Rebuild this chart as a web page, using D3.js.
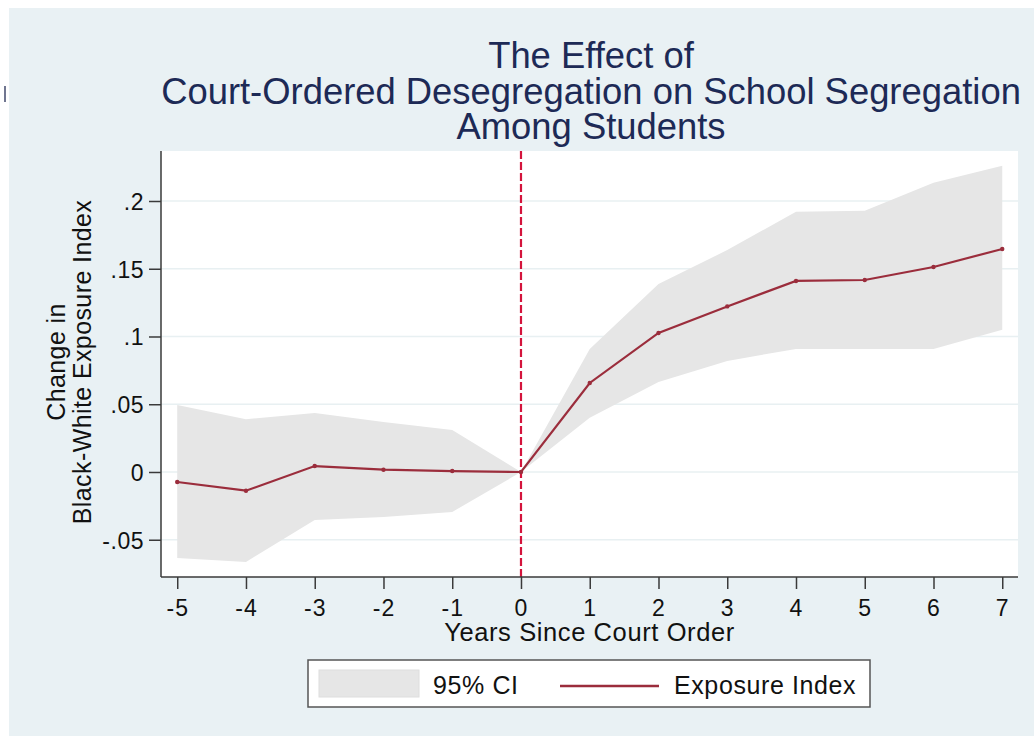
<!DOCTYPE html>
<html>
<head>
<meta charset="utf-8">
<script src="https://cdn.jsdelivr.net/npm/d3@7"></script>
<style>
  html, body { margin: 0; padding: 0; background: #fff; }
  svg { display: block; font-family: "Liberation Sans", Arial, Helvetica, sans-serif; }
</style>
</head>
<body>
<svg id="chart" width="1034" height="736"></svg>
<script>
// values
const years = [-5, -4, -3, -2, -1, 0, 1, 2, 3, 4, 5, 6, 7];
const estimate = [-0.0074, -0.0138, 0.0044, 0.0017, 0.0007, 0, 0.0657, 0.1026, 0.1222, 0.141, 0.1417, 0.1513, 0.1646];
const ciLower = [-0.0635, -0.0664, -0.0354, -0.0332, -0.0295, 0, 0.040, 0.0665, 0.082, 0.0908, 0.0908, 0.0908, 0.105];
const ciUpper = [0.0494, 0.039, 0.0435, 0.0369, 0.031, 0, 0.0908, 0.1387, 0.1638, 0.192, 0.1928, 0.2135, 0.226];
const yTicks = [-0.05, 0, 0.05, 0.1, 0.15, 0.2];
const yTickLabels = ['-.05', '0', '.05', '.1', '.15', '.2'];
const titleLines = ['The Effect of', 'Court-Ordered Desegregation on School Segregation', 'Among Students'];
const yTitleLines = ['Change in', 'Black-White Exposure Index'];
const xTitle = 'Years Since Court Order';
const legendLabels = ['95% CI', 'Exposure Index'];

const rows = years.map((yr, i) => ({ yr, est: estimate[i], lo: ciLower[i], hi: ciUpper[i] }));

const svg = d3.select('#chart');
const plot = { left: 161, right: 1018, top: 151, bottom: 577 };

const lineColor = '#9b2d3c';
const bandColor = '#e6e6e6';
const textColor = '#111';

// outer background
svg.append('rect').attr('x', 9).attr('y', 8).attr('width', 1025).attr('height', 728).attr('fill', '#e9f1f4');
svg.append('rect').attr('x', 4).attr('y', 86).attr('width', 2).attr('height', 16).attr('fill', '#707690');

// plot region
svg.append('rect')
  .attr('x', plot.left).attr('y', plot.top)
  .attr('width', plot.right - plot.left).attr('height', plot.bottom - plot.top)
  .attr('fill', '#fff');

const x = d3.scaleLinear().domain([-5.236, 7.229]).range([plot.left, plot.right]);
const y = d3.scaleLinear().domain([-0.0775, 0.2369]).range([plot.bottom, plot.top]);

// gridlines
svg.append('g').selectAll('line')
  .data(yTicks)
  .join('line')
  .attr('x1', plot.left).attr('x2', plot.right)
  .attr('y1', d => y(d)).attr('y2', d => y(d))
  .attr('stroke', '#e8f0f2').attr('stroke-width', 1.5);

// 95% CI band
const area = d3.area().x(d => x(d.yr)).y0(d => y(d.lo)).y1(d => y(d.hi));
svg.append('path').datum(rows).attr('d', area).attr('fill', bandColor);

// court order line
svg.append('line')
  .attr('x1', x(0)).attr('x2', x(0))
  .attr('y1', plot.top).attr('y2', plot.bottom)
  .attr('stroke', '#d4143c').attr('stroke-width', 2.2)
  .attr('stroke-dasharray', '8,3');

// point estimates
const line = d3.line().x(d => x(d.yr)).y(d => y(d.est));
svg.append('path').datum(rows).attr('d', line)
  .attr('fill', 'none').attr('stroke', lineColor).attr('stroke-width', 2.2);
svg.append('g').selectAll('circle')
  .data(rows)
  .join('circle')
  .attr('cx', d => x(d.yr)).attr('cy', d => y(d.est)).attr('r', 2.2)
  .attr('fill', lineColor);

// axes
const axisColor = '#3a3a3a';
const yAxis = svg.append('g')
  .attr('transform', `translate(${plot.left},0)`)
  .call(d3.axisLeft(y).tickValues(yTicks).tickFormat((d, i) => yTickLabels[i]).tickSize(12).tickPadding(5).tickSizeOuter(0));
const xAxis = svg.append('g')
  .attr('transform', `translate(0,${plot.bottom})`)
  .call(d3.axisBottom(x).tickValues(years).tickFormat(d => String(d)).tickSize(12).tickSizeOuter(0));

[yAxis, xAxis].forEach(g => {
  g.select('.domain').attr('stroke', axisColor).attr('stroke-width', 1.5);
  g.selectAll('.tick line').attr('stroke', axisColor).attr('stroke-width', 1.5);
  g.selectAll('.tick text').attr('fill', textColor).attr('font-size', 23).attr('font-family', null);
});
yAxis.select('.domain').attr('d', `M0,${plot.top}V${plot.bottom}`);
xAxis.select('.domain').attr('d', `M${plot.left},0H${plot.right}`);
yAxis.selectAll('.tick text').attr('dy', '0.36em').attr('letter-spacing', 0.5);
xAxis.selectAll('.tick text').attr('dy', null).attr('y', 39).attr('letter-spacing', 1);

// titles
svg.append('text')
  .attr('text-anchor', 'middle').attr('fill', '#1d2a56').attr('font-size', 36.4)
  .selectAll('tspan')
  .data(titleLines)
  .join('tspan')
  .attr('x', 591).attr('y', (d, i) => 68 + i * 35.5)
  .text(d => d);

svg.append('text')
  .attr('x', (plot.left + plot.right) / 2).attr('y', 641)
  .attr('text-anchor', 'middle').attr('fill', textColor).attr('font-size', 25.5)
  .attr('letter-spacing', 0.6)
  .text(xTitle);

svg.append('text')
  .attr('transform', 'translate(0,362) rotate(-90)')
  .attr('text-anchor', 'middle').attr('fill', textColor).attr('font-size', 25)
  .attr('letter-spacing', 0.4)
  .selectAll('tspan')
  .data(yTitleLines)
  .join('tspan')
  .attr('x', 0).attr('y', (d, i) => 65 + i * 25.5)
  .text(d => d);

// legend
const legend = svg.append('g');
legend.append('rect')
  .attr('x', 308).attr('y', 660).attr('width', 562).attr('height', 47)
  .attr('fill', '#fff').attr('stroke', '#555').attr('stroke-width', 1.5);
legend.append('rect')
  .attr('x', 319).attr('y', 670).attr('width', 100).attr('height', 27)
  .attr('fill', bandColor).attr('stroke', '#dedede').attr('stroke-width', 1);
legend.append('line')
  .attr('x1', 560).attr('x2', 659).attr('y1', 686).attr('y2', 686)
  .attr('stroke', lineColor).attr('stroke-width', 2.4);
legend.selectAll('text.lab')
  .data(legendLabels)
  .join('text')
  .attr('class', 'lab')
  .attr('x', (d, i) => i === 0 ? 433 : 674).attr('y', 694)
  .attr('fill', textColor).attr('font-size', 25).attr('letter-spacing', 0.6)
  .text(d => d);
</script>
</body>
</html>
